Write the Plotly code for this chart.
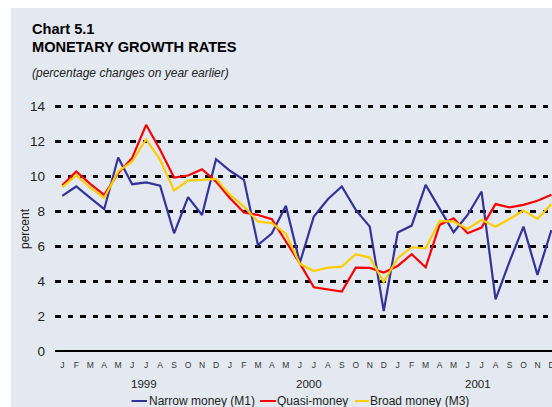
import plotly.graph_objects as go

# ---- data ----
month_labels = ["J", "F", "M", "A", "M", "J", "J", "A", "S", "O", "N", "D",
                "J", "F", "M", "A", "M", "J", "J", "A", "S", "O", "N", "D",
                "J", "F", "M", "A", "M", "J", "J", "A", "S", "O", "N", "D"]
years = ["1999", "2000", "2001"]

narrow_m1 = [8.88, 9.42, 8.77, 8.12, 11.08, 9.55, 9.65, 9.46, 6.74, 8.81, 7.79, 10.98,
             10.32, 9.80, 6.07, 6.74, 8.31, 5.05, 7.70, 8.69, 9.42, 8.08, 7.12, 2.29,
             6.78, 7.18, 9.51, 8.18, 6.80, 7.79, 9.13, 2.96, 5.12, 7.12, 4.36, 6.93]
quasi_money = [9.49, 10.28, 9.57, 8.94, 10.18, 11.05, 12.95, 11.52, 9.93, 10.05, 10.41, 9.70,
               8.75, 7.93, 7.79, 7.55, 6.27, 5.02, 3.65, 3.53, 3.40, 4.77, 4.76, 4.49,
               4.87, 5.54, 4.79, 7.22, 7.60, 6.74, 7.07, 8.41, 8.23, 8.37, 8.60, 8.94]
broad_m3 = [9.38, 10.07, 9.35, 8.77, 10.28, 10.85, 12.13, 10.95, 9.19, 9.76, 9.80, 9.86,
            8.94, 8.27, 7.41, 7.32, 6.70, 4.99, 4.58, 4.77, 4.83, 5.54, 5.35, 3.95,
            5.31, 5.94, 5.88, 7.45, 7.41, 6.99, 7.51, 7.12, 7.56, 8.04, 7.56, 8.41]

series_names = ["Narrow money (M1)", "Quasi-money", "Broad money (M3)"]
series_colors = ["#333399", "#FF0000", "#FFCC00"]

FONT = "Liberation Sans, Arial, sans-serif"
x = list(range(len(month_labels)))

fig = go.Figure()
for name, vals, col in zip(series_names, [narrow_m1, quasi_money, broad_m3], series_colors):
    fig.add_trace(go.Scatter(x=x, y=vals, mode="lines", name=name,
                             line=dict(color=col, width=2.2), showlegend=False))

# plot area geometry (pixels) for paper conversions
L, R, T, B, W, H = 55, 0, 103, 56, 552, 407
pw, ph = W - L - R, H - T - B
def px(xp):
    return (xp - L) / pw
def py(yp):
    return (H - B - yp) / ph

shapes = [dict(type="rect", xref="paper", yref="paper", x0=px(11), x1=px(560),
               y0=py(8), y1=py(420), fillcolor="#E4E9F1", line=dict(width=0), layer="below")]

annotations = [
    dict(text="<b>Chart 5.1</b>", x=px(29.5), y=py(28.5), xanchor="left", yanchor="middle",
         font=dict(size=14.6, color="#000", family=FONT)),
    dict(text="<b>MONETARY GROWTH RATES</b>", x=px(29.5), y=py(46.5), xanchor="left", yanchor="middle",
         font=dict(size=14.6, color="#000", family=FONT)),
    dict(text="<i>(percentage changes on year earlier)</i>", x=px(29.5), y=py(73), xanchor="left",
         yanchor="middle", font=dict(size=12, color="#222", family=FONT)),
    dict(text="percent", x=px(25), y=py(229), xanchor="center", yanchor="middle", textangle=-90,
         font=dict(size=12, color="#222", family=FONT)),
]
year_pos = [5.86, 17.64, 29.74]
for yr, xp in zip(years, year_pos):
    annotations.append(dict(text=yr, x=xp, xref="x", y=py(384), yref="paper", showarrow=False,
                            xanchor="center", yanchor="middle",
                            font=dict(size=11.5, color="#222", family=FONT)))

# manual legend
leg = [(131.5, 147, 149), (260, 276, 277.3), (355, 369, 370)]
for (a, b, t), name, col in zip(leg, series_names, series_colors):
    shapes.append(dict(type="line", xref="paper", yref="paper", x0=px(a), x1=px(b),
                       y0=py(401), y1=py(401), line=dict(color=col, width=2)))
    annotations.append(dict(text=name, x=px(t - 2), y=py(401), xanchor="left", yanchor="middle",
                            font=dict(size=12, color="#222", family=FONT)))
for a in annotations:
    a.setdefault("xref", "paper")
    a.setdefault("yref", "paper")
    a["showarrow"] = False

fig.update_layout(
    width=W, height=H,
    margin=dict(l=L, r=R, t=T, b=B, pad=0),
    paper_bgcolor="white", plot_bgcolor="rgba(0,0,0,0)",
    font=dict(family=FONT),
    shapes=shapes, annotations=annotations,
    showlegend=False,
    xaxis=dict(range=[-0.52, 35.04], tickmode="array", tickvals=x, ticktext=month_labels,
               showgrid=False, zeroline=False, showline=False, ticks="",
               tickfont=dict(size=8.5, color="#333", family=FONT), ticklabelstandoff=7,
               ticklabeloverflow="allow",
               automargin=False, fixedrange=True),
    yaxis=dict(range=[0, 14.2], tickmode="array", tickvals=[0, 2, 4, 6, 8, 10, 12, 14],
               showgrid=True, gridcolor="black", gridwidth=3, griddash="5.7px,6.8px",
               zeroline=True, zerolinecolor="black", zerolinewidth=2,
               showline=False, ticks="", ticklabelstandoff=9,
               tickfont=dict(size=13.5, color="#222", family=FONT),
               automargin=False, fixedrange=True),
)

fig.write_html("out.html", config={"displayModeBar": False},
               post_script="document.body.style.margin='0';document.body.style.padding='0';"
                           "document.body.style.overflow='hidden';")
